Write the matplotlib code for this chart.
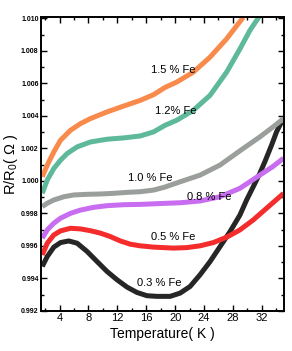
import matplotlib.pyplot as plt
from matplotlib.ticker import MultipleLocator, FormatStrFormatter

# temperature (K) and R/R0
t_03 = [1.61, 2.30, 3.21, 4.14, 5.28, 6.44, 7.82, 9.20, 10.58, 11.96, 13.34, 14.72, 16.10, 17.48, 19.31,
        20.69, 22.07, 23.45, 24.83, 26.21, 27.59, 28.97, 29.89, 30.80, 31.72, 32.41, 33.34, 34.03, 34.72]
r_03 = [0.99474, 0.99535, 0.99593, 0.99621, 0.99631, 0.99617, 0.99566, 0.99504, 0.99443, 0.99392, 0.99347,
        0.99314, 0.99294, 0.99290, 0.99290, 0.99310, 0.99351, 0.99423, 0.99504, 0.99596, 0.99688, 0.99791,
        0.99883, 0.99964, 1.00047, 1.00118, 1.00220, 1.00302, 1.00363]

t_05 = [1.61, 2.30, 3.21, 4.14, 5.52, 6.90, 8.28, 9.66, 11.03, 12.41, 13.79, 15.17, 17.01, 19.77, 21.61,
        23.45, 25.28, 27.13, 28.97, 30.80, 32.65, 34.48, 35.0]
r_05 = [0.99545, 0.99617, 0.99668, 0.99693, 0.99709, 0.99705, 0.99694, 0.99679, 0.99658, 0.99631, 0.99611,
        0.99601, 0.99593, 0.99587, 0.99590, 0.99601, 0.99621, 0.99654, 0.99699, 0.99760, 0.99832, 0.99903, 0.99924]

t_08 = [1.61, 2.30, 3.21, 4.14, 5.52, 6.90, 8.73, 10.58, 12.87, 15.17, 17.86, 20.69, 23.45, 26.21, 28.97,
        31.72, 33.56, 35.0]
r_08 = [0.99648, 0.99699, 0.99740, 0.99771, 0.99801, 0.99821, 0.99838, 0.99848, 0.99854, 0.99856, 0.99861,
        0.99866, 0.99877, 0.99903, 0.99955, 1.00036, 1.00090, 1.00140]

t_10 = [1.61, 2.30, 3.21, 4.59, 5.97, 7.82, 9.66, 11.49, 13.34, 15.17, 17.01, 18.48, 20.69, 23.45, 26.21,
        29.42, 31.72, 33.56, 35.0]
r_10 = [0.99842, 0.99863, 0.99883, 0.99903, 0.99914, 0.99918, 0.99920, 0.99924, 0.99930, 0.99934, 0.99944,
        0.99961, 0.99995, 1.00036, 1.00098, 1.00200, 1.00271, 1.00333, 1.00384]

t_12 = [1.61, 2.30, 3.21, 4.14, 5.06, 6.44, 8.28, 10.58, 12.87, 15.17, 17.01, 18.62, 20.23, 22.52, 24.83,
        27.13, 28.97, 30.34, 31.72]
r_12 = [0.99924, 1.00006, 1.00077, 1.00128, 1.00169, 1.00210, 1.00240, 1.00257, 1.00265, 1.00277, 1.00302,
        1.00343, 1.00374, 1.00435, 1.00527, 1.00670, 1.00813, 1.00926, 1.01018]

t_15 = [1.61, 2.30, 3.21, 4.14, 5.52, 6.90, 8.28, 10.58, 12.87, 15.17, 17.01, 18.62, 20.23, 22.52, 24.83,
        27.13, 29.42]
r_15 = [1.00026, 1.00098, 1.00179, 1.00251, 1.00312, 1.00353, 1.00384, 1.00425, 1.00461, 1.00496, 1.00531,
        1.00576, 1.00609, 1.00670, 1.00762, 1.00875, 1.01007]

labels = ["0.3 % Fe", "0.5 % Fe", "0.8 % Fe", "1.0 % Fe", "1.2% Fe", "1.5 % Fe"]
label_x = [17.8, 19.7, 24.7, 16.5, 20.1, 19.7]
label_y = [0.99372, 0.99654, 0.99903, 1.00016, 1.00429, 1.00680]

colors = ["#262626", "#f42c2c", "#c86cf0", "#9b9f9b", "#5db99a", "#f88a4c"]

plt.rcParams["font.family"] = ["Liberation Sans", "DejaVu Sans"]
plt.rcParams["mathtext.fontset"] = "custom"
plt.rcParams["mathtext.rm"] = "Liberation Sans"
plt.rcParams["mathtext.it"] = "Liberation Sans"

fig = plt.figure(figsize=(2.92, 3.51), dpi=100)
ax = fig.add_axes([0.142, 0.114, 0.829, 0.838])

series = [(t_03, r_03), (t_05, r_05), (t_08, r_08), (t_10, r_10), (t_12, r_12), (t_15, r_15)]
for (t, r), c in zip(series, colors):
    ax.plot(t, r, color=c, lw=3.6, solid_capstyle="butt", solid_joinstyle="round")

for s, x, y in zip(labels, label_x, label_y):
    ax.text(x, y, s, fontsize=8, ha="center", va="center")

ax.set_xlim(1.5, 35.0)
ax.set_ylim(0.992, 1.0101)
ax.xaxis.set_major_locator(MultipleLocator(4))
ax.xaxis.set_minor_locator(MultipleLocator(2))
ax.yaxis.set_major_locator(MultipleLocator(0.002))
ax.yaxis.set_minor_locator(MultipleLocator(0.001))
ax.yaxis.set_major_formatter(FormatStrFormatter("%.3f"))

ax.tick_params(which="both", direction="in", top=True, right=True, width=1.0)
ax.tick_params(which="major", length=4)
ax.tick_params(which="minor", length=2.5)
ax.tick_params(axis="x", labelsize=8, pad=1.5)
ax.tick_params(axis="y", labelsize=5, pad=2)
for lbl in ax.get_yticklabels():
    lbl.set_fontweight("bold")
for sp in ax.spines.values():
    sp.set_linewidth(1.4)

ax.set_xlabel("Temperature( K )", fontsize=10, labelpad=3)
ax.set_ylabel("R/R$_0$( $\\Omega$ )", fontsize=10.5)
ax.yaxis.set_label_coords(-0.09, 0.5)

fig.savefig("out.png", dpi=100)
